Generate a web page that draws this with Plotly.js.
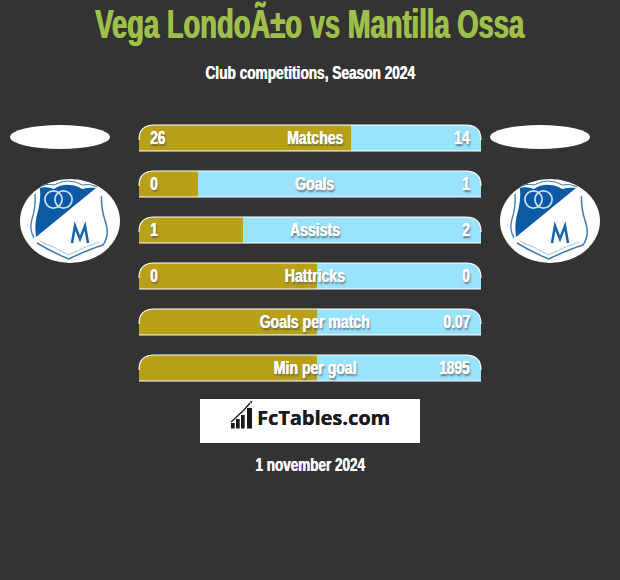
<!DOCTYPE html>
<html>
<head>
<meta charset="utf-8">
<script src="https://cdn.plot.ly/plotly-3.0.1.min.js"></script>
<style>html,body{margin:0;padding:0;background:#333333;overflow:hidden}</style>
</head>
<body>
<div id="chart" style="width:620px;height:580px"></div>
<script>
const categories = ['Matches','Goals','Assists','Hattricks','Goals per match','Min per goal'];
const leftShare  = [62, 17.2, 30.4, 52, 52, 52];
const rightShare = [38, 82.8, 69.6, 48, 48, 48];
const leftLabels  = ['26','0','1','0','',''];
const rightLabels = ['14','1','2','0','0.07','1895'];
const titleText = 'Vega LondoÃ±o vs Mantilla Ossa';
const subtitleText = 'Club competitions, Season 2024';
const dateText = '1 november 2024';
const brandText = 'FcTables.com';

const GOLD='#b8a017', BLUE='#99e3ff', BG='#333333', GREEN='#a0bf4a';
const NARROW='"Liberation Sans",sans-serif';
const L=139,R=481,T=115,B=391,W=R-L,H=B-T,PITCH=46,BAR=26,RAD=15;
const px=x=>(x-L)/W, py=y=>1-(y-T)/H;
const p=(x,y)=>px(x).toFixed(5)+','+py(y).toFixed(5);

const crest=`<svg xmlns="http://www.w3.org/2000/svg" width="400" height="336" viewBox="0 0 100 84">
<ellipse cx="50" cy="42" rx="50" ry="42" fill="#fff"/>
<path d="M20,8 Q25,4 34,6 Q41,2 48,2 Q56,2 62,6 Q70,4 77,8" fill="none" stroke="#3f78b5" stroke-width="1"/>
<path d="M20,9 Q27,7 34,10 Q42,5 49,6 Q56,6 62,10 Q69,8 76,9 L16,58 Q14,44 18,32 Q21,20 20,9Z" fill="#0a5aa6"/>
<circle cx="33.5" cy="20.5" r="8.6" fill="none" stroke="#cfe0ef" stroke-width="1.7"/>
<circle cx="43.5" cy="20.5" r="8.6" fill="none" stroke="#cfe0ef" stroke-width="1.7"/>
<path d="M15,15 Q16,28 12,40 Q9,50 14,59" fill="none" stroke="#3f78b5" stroke-width="1.3"/>
<path d="M81.5,17 Q81,30 85.5,43 Q90,56 83,66 Q70,70 48.5,80 Q30,72 17,64" fill="none" stroke="#3f78b5" stroke-width="1.5"/>
<path d="M20,62 Q34,68 48.5,76 Q64,68 79,63" fill="none" stroke="#8db2d6" stroke-width="0.8"/>
<path d="M52,64 L55,47 L60,60 L65,47 L68,64" fill="none" stroke="#1d65ad" stroke-width="2.6"/>
</svg>`;
const icon=`<svg xmlns="http://www.w3.org/2000/svg" width="120" height="140" viewBox="0 0 24 28">
<path d="M1,21 L14,9 L20,2" fill="none" stroke="#1a1a1a" stroke-width="1.3"/>
<path d="M20,0 L22.5,0.5 L21,3Z" fill="#1a1a1a"/>
<rect x="1" y="22" width="3.7" height="5.5" fill="#1a1a1a"/>
<rect x="6" y="18" width="3.7" height="9.5" fill="#1a1a1a"/>
<rect x="11" y="14" width="3.7" height="13.5" fill="#1a1a1a"/>
<rect x="17" y="7" width="5" height="20.5" fill="#1a1a1a"/>
</svg>`;
const uri=s=>'data:image/svg+xml;charset=utf-8,'+encodeURIComponent(s);
const img=(src,x,y,w,h)=>({source:uri(src),xref:'paper',yref:'paper',x:px(x),y:py(y),sizex:w/W,sizey:h/H,sizing:'stretch',xanchor:'left',yanchor:'top',layer:'above'});

const shapes=[];
categories.forEach((c,i)=>{
  const t=T+10+i*PITCH, b=t+BAR;
  shapes.push({type:'path',xref:'paper',yref:'paper',layer:'above',fillcolor:BG,line:{width:0},
    path:`M${p(L-1,t-1)} L${p(L+RAD,t-1)} L${p(L+RAD,t)} Q${p(L,t)} ${p(L,t+RAD)} L${p(L-1,t+RAD)} Z`});
  shapes.push({type:'path',xref:'paper',yref:'paper',layer:'above',fillcolor:BG,line:{width:0},
    path:`M${p(R+1,t-1)} L${p(R-RAD,t-1)} L${p(R-RAD,t)} Q${p(R,t)} ${p(R,t+RAD)} L${p(R+1,t+RAD)} Z`});
  shapes.push({type:'path',xref:'paper',yref:'paper',layer:'above',line:{color:'#ffffff',width:1.2},
    path:`M${p(L,t+RAD)} Q${p(L,t)} ${p(L+RAD,t)} L${p(R-RAD,t)} Q${p(R,t)} ${p(R,t+RAD)}`});
  shapes.push({type:'line',xref:'paper',yref:'paper',layer:'above',line:{color:'#ffffff',width:1.2},
    x0:0,x1:1,y0:py(b),y1:py(b)});
});
[60,540].forEach(cx=>shapes.push({type:'circle',xref:'paper',yref:'paper',fillcolor:'#ffffff',line:{width:0},layer:'above',
  x0:px(cx-50),x1:px(cx+50),y0:py(125),y1:py(149)}));
shapes.push({type:'rect',xref:'paper',yref:'paper',fillcolor:'#ffffff',line:{width:0},layer:'below',
  x0:px(200),x1:px(420),y0:py(399),y1:py(443)});

const squeeze=[];
const ann=(text,x,y,size,color,anchor,shadow,scale,family)=>{
  squeeze.push({scale,anchor});
  return {text,xref:'paper',yref:'paper',x:px(x),y:py(y),xanchor:anchor,yanchor:'middle',showarrow:false,
    font:{family:family||NARROW,size,color,weight:700,shadow:shadow||'none'}};
};
const SH='0.6px 0 0 #fff, 1.5px 1.5px 2px rgba(90,90,90,0.8)';
const annotations=[
  ann(titleText,309.5,24,41,GREEN,'center','1.2px 0 0 '+GREEN,0.668),
  ann(subtitleText,309.5,73,18,'#ffffff','center','0.6px 0 0 #fff',0.76),
  ann(dateText,310,465,18,'#ffffff','center','0.6px 0 0 #fff',0.75),
  ann(brandText,255,418,19,'#1a1a1a','left','0.3px 0 0 #1a1a1a',1.05,'"Open Sans",sans-serif')
];
categories.forEach((c,i)=>{
  const m=T+22+i*PITCH;
  annotations.push(ann(c,314.5,m,19,'#ffffff','center',SH,0.74));
  if(leftLabels[i]) annotations.push(ann(leftLabels[i],148,m,19,'#ffffff','left',SH,0.72));
  annotations.push(ann(rightLabels[i],472,m,19,'#ffffff','right',SH,0.72));
});

const common={type:'bar',orientation:'h',y:categories,hoverinfo:'skip',textposition:'none'};
const data=[
  Object.assign({},common,{name:'Vega',x:leftShare,marker:{color:GOLD,line:{width:0}}}),
  Object.assign({},common,{name:'Mantilla',x:rightShare,marker:{color:BLUE,line:{width:0}}})
];
const layout={
  width:620,height:580,autosize:false,
  margin:{l:L,r:620-R,t:T,b:580-B,pad:0},
  paper_bgcolor:BG,plot_bgcolor:BG,
  barmode:'stack',bargap:1-BAR/PITCH,showlegend:false,
  xaxis:{range:[0,100],visible:false,fixedrange:true},
  yaxis:{type:'category',categoryorder:'array',categoryarray:categories,autorange:'reversed',visible:false,fixedrange:true},
  shapes,annotations,
  images:[img(crest,20,179,100,84),img(crest,500,179,100,84),img(icon,230,401,24,28)]
};
Plotly.newPlot('chart',data,layout,{displayModeBar:false,staticPlot:true}).then(gd=>{
  // No condensed face is installed: narrow the real text elements horizontally.
  gd.querySelectorAll('.annotation').forEach((g,i)=>{
    const t=g.querySelector('text'); if(!t||!squeeze[i]) return;
    const b=t.getBBox(), a=squeeze[i].anchor;
    const ax=a==='left'?b.x:a==='right'?b.x+b.width:b.x+b.width/2;
    const old=t.getAttribute('transform')||'';
    t.setAttribute('transform',`${old} translate(${ax},0) scale(${squeeze[i].scale},1) translate(${-ax},0)`);
  });
});
</script>
</body>
</html>
